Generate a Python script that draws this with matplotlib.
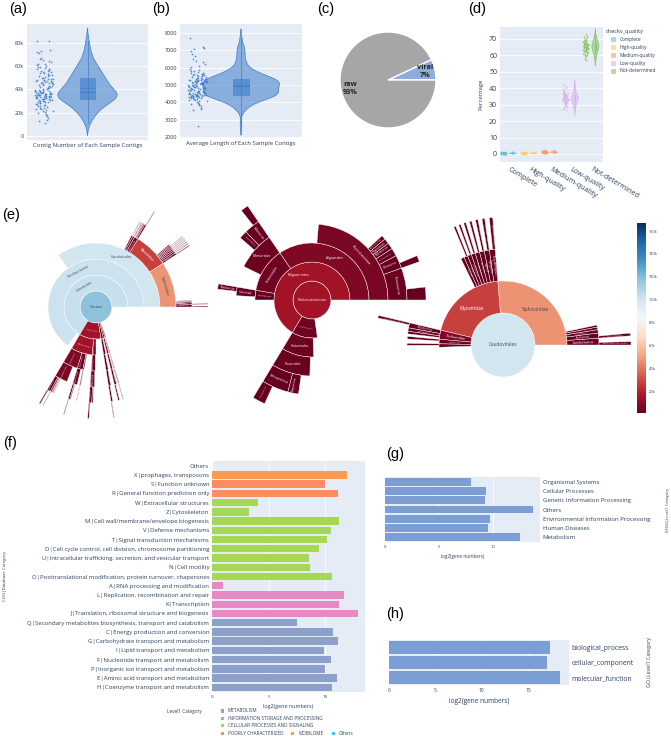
import numpy as np
import matplotlib.pyplot as plt
from matplotlib.patches import Wedge, Circle, Rectangle
from matplotlib.colors import Normalize
from matplotlib.textpath import TextPath
from matplotlib.font_manager import FontProperties
import matplotlib.cm as cm

# ---------------- data ----------------
# (a) contig number per sample (thousands)
contig_numbers_k = [
    11.0, 12.5, 14.0, 15.5, 17.0, 18.0, 19.0, 19.8, 20.5, 21.0, 21.6, 22.1, 22.7, 23.2, 23.8,
    24.3, 24.9, 25.4, 25.8, 26.2, 26.7, 27.1, 27.5, 27.9, 28.3, 28.7, 29.0, 29.3, 29.6, 29.9,
    30.2, 30.5, 30.8, 31.1, 31.4, 31.6, 31.8, 32.0, 32.2, 32.4, 32.6, 32.8, 33.0, 33.2, 33.4,
    33.6, 33.8, 34.0, 34.1, 34.3, 34.5, 34.6, 34.8, 35.0, 35.1, 35.3, 35.5, 35.6, 35.8, 36.0,
    36.1, 36.3, 36.5, 36.6, 36.8, 37.0, 37.1, 37.3, 37.5, 37.7, 38.0, 38.3, 38.6, 38.9, 39.2,
    39.5, 39.8, 40.1, 40.4, 40.7, 41.0, 41.4, 41.8, 42.2, 42.6, 43.0, 43.4, 43.8, 44.2, 44.6,
    45.0, 45.3, 45.6, 45.9, 46.2, 46.5, 46.8, 47.1, 47.4, 47.7, 48.0, 48.3, 48.6, 48.9, 49.2,
    49.6, 50.1, 50.6, 51.1, 51.6, 52.1, 52.6, 53.1, 53.6, 54.1, 54.6, 55.1, 55.6, 56.1, 56.6,
    57.1, 57.6, 58.2, 58.8, 59.4, 60.0, 60.7, 61.4, 62.1, 63.0, 64.0, 65.0, 66.0, 67.0, 71.5,
    72.3, 73.0, 73.6, 81.0, 81.8,
]
# (b) average contig length per sample
avg_contig_length = [
    2650, 3550, 3620, 3700, 3760, 3820, 3880, 3930, 3980, 4020, 4060, 4100, 4130, 4160, 4190,
    4210, 4230, 4250, 4270, 4290, 4300, 4310, 4320, 4330, 4340, 4350, 4360, 4370, 4380, 4390,
    4400, 4410, 4420, 4430, 4440, 4450, 4460, 4470, 4480, 4490, 4500, 4515, 4530, 4545, 4560,
    4575, 4590, 4605, 4620, 4635, 4650, 4665, 4680, 4695, 4710, 4725, 4740, 4755, 4770, 4785,
    4800, 4815, 4830, 4845, 4860, 4875, 4890, 4905, 4920, 4935, 4950, 4965, 4980, 4995, 5010,
    5025, 5040, 5055, 5070, 5085, 5100, 5110, 5120, 5130, 5140, 5150, 5160, 5170, 5180, 5190,
    5200, 5210, 5220, 5230, 5240, 5250, 5260, 5270, 5280, 5290, 5300, 5310, 5320, 5335, 5350,
    5370, 5390, 5410, 5430, 5450, 5470, 5490, 5510, 5530, 5550, 5570, 5590, 5610, 5630, 5650,
    5680, 5710, 5740, 5780, 5830, 5880, 5950, 6020, 6100, 6200, 6300, 6400, 6500, 6650, 6800,
    6950, 7050, 7150, 7200, 7700,
]

# (c) pie
pie_labels = ['viral', 'raw']
pie_values = [7, 93]

# (d) checkv quality (percentage per sample)
quality_levels = ['Complete', 'High-quality', 'Medium-quality', 'Low-quality', 'Not-determined']
pct_complete = [0.1, 0.2, 0.3, 0.2, 0.4, 0.5, 0.3, 0.6, 0.2, 0.4, 0.7, 0.3, 0.5, 0.8, 0.2, 0.4, 0.6, 0.3, 0.9, 0.5,
                0.1, 0.4, 0.6, 0.3, 1.0, 0.5, 0.2, 0.7, 0.4, 0.3, 0.6, 0.5, 1.2, 0.4, 0.2, 0.3, 0.8, 0.5, 0.4, 0.6,
                0.3, 0.7, 0.2, 0.5, 0.4, 1.1, 0.3, 0.6, 0.5, 0.4, 0.2, 0.7, 0.3, 0.5, 0.9, 0.4, 0.6, 0.3, 0.5, 0.4]
pct_high = [0.3, 0.5, 0.4, 0.6, 0.2, 0.7, 0.5, 0.4, 0.8, 0.3, 0.6, 0.5, 0.9, 0.4, 0.3, 0.7, 0.5, 0.6, 1.0, 0.4,
            0.2, 0.5, 0.7, 0.6, 0.3, 0.8, 0.5, 0.4, 1.1, 0.6, 0.5, 0.3, 0.7, 0.4, 0.6, 0.5, 0.9, 0.2, 0.4, 0.6,
            0.5, 0.8, 0.3, 0.7, 0.5, 0.4, 1.2, 0.6, 0.3, 0.5, 0.7, 0.4, 0.6, 0.5, 0.3, 0.8, 0.4, 0.6, 0.5, 0.7]
pct_medium = [0.6, 1.0, 0.8, 1.2, 1.5, 0.9, 1.1, 0.7, 1.3, 1.8, 1.0, 0.8, 1.4, 1.2, 0.9, 2.0, 1.1, 1.6, 0.7, 1.3,
              1.0, 1.2, 0.9, 1.7, 1.4, 1.1, 0.8, 2.3, 1.0, 1.5, 1.2, 0.9, 1.3, 1.1, 1.9, 0.8, 1.4, 1.0, 1.2, 1.6,
              0.9, 1.1, 1.3, 2.1, 1.0, 1.5, 0.7, 1.2, 1.4, 1.0, 1.8, 1.1, 0.9, 1.3, 1.6, 1.2, 1.0, 1.4, 0.8, 1.1]
pct_low = [26.5, 28, 29.5, 30.5, 31, 31.5, 32, 32.3, 32.6, 33, 33.2, 33.5, 33.8, 34, 34.2, 34.5, 34.8, 35, 35.3, 35.6,
           36, 36.5, 37, 37.5, 38, 39, 40, 41, 42, 30, 31.8, 32.8, 33.6, 34.4, 35.2, 36.2, 29, 30.8, 32.1, 33.3,
           34.6, 35.8, 37.2, 38.5, 27.5, 31.2, 32.4, 33.9, 35.5, 36.8, 39.5, 28.5, 30.2, 33.1, 34.1, 34.9, 36.4, 31.6, 32.9, 34.3]
pct_notdet = [57, 59, 60.5, 61.5, 62, 62.5, 63, 63.5, 64, 64.3, 64.6, 65, 65.3, 65.6, 66, 66.3, 66.6, 67, 67.3, 67.6,
              68, 68.5, 69, 69.5, 70, 71, 72, 73, 60, 61, 62.8, 63.8, 64.8, 65.8, 66.8, 67.8, 68.8, 58, 61.8, 63.2,
              64.1, 65.1, 66.1, 67.1, 68.2, 70.5, 59.5, 62.2, 63.6, 64.9, 65.9, 66.9, 69.2, 71.5, 60.8, 62.6, 64.4, 65.4, 66.4, 67.5]

# (e) taxonomy tree: slice size (relative abundance) and contig count (thousands, colour)
tax_names = [
    'Viruses',
    'Uroviricota', 'Nucleocytoviricota', 'Cressdnaviricota', 'Phixviricota', 'Preplasmiviricota',
    'Caudoviricetes', 'Megaviricetes', 'Pokkesviricetes', 'Arfiviricetes', 'Malgrandaviricetes', 'Maveriviricetes',
    'Caudovirales', 'Algavirales', 'Imitervirales', 'Pimascovirales', 'Chitovirales', 'Cirlivirales',
    'Petitvirales', 'Priklausovirales',
    'Siphoviridae', 'Myoviridae', 'Podoviridae', 'Herelleviridae', 'Ackermannviridae', 'Phycodnaviridae',
    'Mimiviridae', 'Iridoviridae', 'Poxviridae', 'Circoviridae', 'Microviridae', 'Lavidaviridae',
    'Lambdavirus', 'Skunavirus', 'Pahexavirus', 'Brujitavirus', 'Tequintavirus',
    'Tequatrovirus', 'Mosigvirus', 'Kayvirus', 'Pbunavirus', 'Felixounavirus', 'Vequintavirus', 'Punavirus', 'Phikzvirus',
    'Phikmvvirus', 'Lederbergvirus', 'Teseptimavirus', 'Twortvirus', 'Kuttervirus',
    'Prasinovirus', 'Chlorovirus', 'Coccolithovirus', 'Raphidovirus', 'Phaeovirus', 'Prymnesiovirus',
    'Mimivirus', 'Cafeteriavirus', 'Ranavirus', 'Orthopoxvirus', 'Yatapoxvirus', 'Circovirus', 'Microvirus', 'Sputnikvirus',
    'Escherichia virus Lambda', 'Lactococcus virus sk1', 'Escherichia virus T4', 'Escherichia virus RB69',
    'Staphylococcus virus K', 'Pseudomonas virus PB1', 'Salmonella virus FelixO1', 'Escherichia virus V5',
    'Escherichia virus P1', 'Pseudomonas virus phiKMV', 'Ostreococcus tauri virus',
    'Paramecium bursaria Chlorella virus', 'Acanthamoeba polyphaga mimivirus', 'Vaccinia virus', 'Porcine circovirus',
]
tax_parents = [
    '',
    'Viruses', 'Viruses', 'Viruses', 'Viruses', 'Viruses',
    'Uroviricota', 'Nucleocytoviricota', 'Nucleocytoviricota', 'Cressdnaviricota', 'Phixviricota', 'Preplasmiviricota',
    'Caudoviricetes', 'Megaviricetes', 'Megaviricetes', 'Megaviricetes', 'Pokkesviricetes', 'Arfiviricetes',
    'Malgrandaviricetes', 'Maveriviricetes',
    'Caudovirales', 'Caudovirales', 'Caudovirales', 'Caudovirales', 'Caudovirales', 'Algavirales',
    'Imitervirales', 'Pimascovirales', 'Chitovirales', 'Cirlivirales', 'Petitvirales', 'Priklausovirales',
    'Siphoviridae', 'Siphoviridae', 'Siphoviridae', 'Siphoviridae', 'Siphoviridae',
    'Myoviridae', 'Myoviridae', 'Myoviridae', 'Myoviridae', 'Myoviridae', 'Myoviridae', 'Myoviridae', 'Myoviridae',
    'Podoviridae', 'Podoviridae', 'Podoviridae', 'Herelleviridae', 'Ackermannviridae',
    'Phycodnaviridae', 'Phycodnaviridae', 'Phycodnaviridae', 'Phycodnaviridae', 'Phycodnaviridae', 'Phycodnaviridae',
    'Mimiviridae', 'Mimiviridae', 'Iridoviridae', 'Poxviridae', 'Poxviridae', 'Circoviridae', 'Microviridae', 'Lavidaviridae',
    'Lambdavirus', 'Skunavirus', 'Tequatrovirus', 'Mosigvirus',
    'Kayvirus', 'Pbunavirus', 'Felixounavirus', 'Vequintavirus',
    'Punavirus', 'Phikmvvirus', 'Prasinovirus',
    'Chlorovirus', 'Mimivirus', 'Orthopoxvirus', 'Circovirus',
]
tax_sizes = [
    1000,
    665, 110, 12, 8, 5,
    650, 73, 12, 8, 6, 3,
    350, 38, 14, 3, 10, 6,
    5, 2,
    92, 70, 8, 4, 3, 26,
    9, 2, 9, 5, 4.5, 1.8,
    4.0, 3.0, 2.0, 1.5, 1.2,
    3.5, 3.0, 2.8, 2.6, 2.4, 2.3, 2.2, 2.0,
    3.0, 2.0, 1.5, 1.5, 1.2,
    6.0, 2.5, 1.5, 1.2, 1.0, 0.8,
    3.0, 1.5, 1.0, 5.0, 2.0, 3.0, 2.5, 1.2,
    1.5, 1.2, 1.5, 1.2,
    1.1, 1.0, 1.0, 0.9,
    0.9, 1.2, 2.0,
    1.0, 1.2, 2.0, 1.2,
]
tax_counts_k = [
    118,
    103, 14, 4, 3, 2,
    102, 14, 3, 2, 2, 1,
    100, 6.5, 3, 1, 2.5, 1.5,
    1.5, 0.5,
    47, 27, 6, 2, 1.5, 5,
    2.5, 0.6, 2.2, 1.2, 1.3, 0.4,
    1.8, 1.2, 0.8, 0.6, 0.5,
    1.5, 1.2, 1.1, 1.0, 0.9, 0.8, 0.7, 0.6,
    1.0, 0.7, 0.5, 0.4, 0.3,
    2.0, 1.0, 0.6, 0.4, 0.3, 0.2,
    1.0, 0.4, 0.3, 1.2, 0.5, 0.8, 0.8, 0.3,
    0.5, 0.4, 0.5, 0.4,
    0.4, 0.3, 0.3, 0.3,
    0.3, 0.4, 0.8,
    0.4, 0.4, 0.5, 0.3,
]
sunburst_roots = ['Viruses', 'Nucleocytoviricota', 'Caudovirales']
colorbar_ticks_k = [20, 40, 60, 80, 100, 120, 140, 160]

# (f) COG categories
cog_labels = [
    'Others', 'X|prophages, transposons', 'S|Function unknown', 'R|General function prediction only',
    'W|Extracellular structures', 'Z|Cytoskeleton', 'M|Cell wall/membrane/envelope biogenesis',
    'V|Defense mechanisms', 'T|Signal transduction mechanisms',
    'D|Cell cycle control, cell division, chromosome partitioning',
    'U|Intracellular trafficking, secretion, and vesicular transport', 'N|Cell motility',
    'O|Posttranslational modification, protein turnover, chaperones', 'A|RNA processing and modification',
    'L|Replication, recombination and repair', 'K|Transcription',
    'J|Translation, ribosomal structure and biogenesis',
    'Q|Secondary metabolites biosynthesis, transport and catabolism', 'C|Energy production and conversion',
    'G|Carbohydrate transport and metabolism', 'I|Lipid transport and metabolism',
    'F|Nucleotide transport and metabolism', 'P|Inorganic ion transport and metabolism',
    'E|Amino acid transport and metabolism', 'H|Coenzyme transport and metabolism',
]
cog_groups = [
    'Others', 'MOBILOME', 'POORLY CHARACTERIZED', 'POORLY CHARACTERIZED',
    'CELLULAR PROCESSES AND SIGNALING', 'CELLULAR PROCESSES AND SIGNALING', 'CELLULAR PROCESSES AND SIGNALING',
    'CELLULAR PROCESSES AND SIGNALING', 'CELLULAR PROCESSES AND SIGNALING', 'CELLULAR PROCESSES AND SIGNALING',
    'CELLULAR PROCESSES AND SIGNALING', 'CELLULAR PROCESSES AND SIGNALING', 'CELLULAR PROCESSES AND SIGNALING',
    'INFORMATION STORAGE AND PROCESSING', 'INFORMATION STORAGE AND PROCESSING', 'INFORMATION STORAGE AND PROCESSING',
    'INFORMATION STORAGE AND PROCESSING',
    'METABOLISM', 'METABOLISM', 'METABOLISM', 'METABOLISM', 'METABOLISM', 'METABOLISM', 'METABOLISM', 'METABOLISM',
]
cog_log2 = [0, 11.95, 9.93, 11.08, 4.1, 3.3, 11.18, 10.53, 10.15, 9.41, 8.53, 8.67, 10.62, 0.94,
            11.68, 11.18, 12.85, 7.49, 10.65, 11.08, 9.85, 10.53, 10.0, 11.03, 10.59]
cog_group_order = ['METABOLISM', 'INFORMATION STORAGE AND PROCESSING', 'CELLULAR PROCESSES AND SIGNALING',
                   'POORLY CHARACTERIZED', 'MOBILOME', 'Others']

# (g) KEGG level 1
kegg_labels = ['Organismal Systems', 'Cellular Processes', 'Genetic Information Processing', 'Others',
               'Environmental Information Processing', 'Human Diseases', 'Metabolism']
kegg_log2 = [8.0, 9.4, 9.3, 13.75, 9.78, 9.6, 12.5]

# (h) GO level 1
go_labels = ['biological_process', 'cellular_component', 'molecular_function']
go_log2 = [17.4, 17.0, 18.45]

# ---------------- style ----------------
W, H = 671, 736
plt.rcParams['font.family'] = ['Open Sans', 'DejaVu Sans']
fig = plt.figure(figsize=(W / 100, H / 100), dpi=100)

PLOT_BG = '#E5ECF6'
TXT = '#2a3f5f'
BLUE = '#3d7cc9'
PASTEL = ['#66C5CC', '#F6CF71', '#F89C74', '#DCB0F2', '#87C55F']
COG_COLORS = {'METABOLISM': '#8DA0CB', 'INFORMATION STORAGE AND PROCESSING': '#E78AC3',
              'CELLULAR PROCESSES AND SIGNALING': '#A6D854', 'POORLY CHARACTERIZED': '#FC8D62',
              'MOBILOME': '#FD9A4E', 'Others': '#3CC6EA'}
BAR_BLUE = '#7b9fd4'
PX_PER_PT = 100 / 72


def px_axes(x0, y0, x1, y1):
    return fig.add_axes([x0 / W, 1 - y1 / H, (x1 - x0) / W, (y1 - y0) / H])


def panel_label(x, y, s):
    fig.text(x / W, 1 - y / H, s, fontsize=10.5, family='Liberation Sans', va='center', ha='left')


def plotly_style(ax, grid_axis='y', labelsize=4):
    ax.set_facecolor(PLOT_BG)
    for s in ax.spines.values():
        s.set_visible(False)
    ax.grid(axis=grid_axis, color='white', lw=0.6)
    ax.set_axisbelow(True)
    ax.tick_params(length=0, colors=TXT, labelsize=labelsize, pad=2)


def text_width(s, fs):
    tp = TextPath((0, 0), s, size=fs * PX_PER_PT, prop=FontProperties(family='Open Sans'))
    return tp.get_extents().width


def silverman_bw(v):
    q75, q25 = np.percentile(v, [75, 25])
    s = min(v.std(ddof=1), (q75 - q25) / 1.349)
    return 1.059 * s * len(v) ** -0.2


def violin(ax, vals, pos, half, box_half, color, pt_pos, pt_half, pt_size=1.6):
    v = np.asarray(vals, float)
    bw = silverman_bw(v)
    grid = np.linspace(v.min() - 2 * bw, v.max() + 2 * bw, 300)
    dens = np.exp(-0.5 * ((grid[:, None] - v[None, :]) / bw) ** 2).sum(axis=1)
    dens = dens / dens.max() * half
    ax.fill_betweenx(grid, pos - dens, pos + dens, facecolor=color, alpha=0.55, edgecolor='none', zorder=2)
    ax.plot(np.r_[pos - dens, (pos + dens)[::-1]], np.r_[grid, grid[::-1]], color=color, lw=0.5, zorder=3)
    q1, med, q3 = np.percentile(v, [25, 50, 75])
    ax.plot([pos, pos], [v.min(), v.max()], color=color, lw=0.5, zorder=3)
    ax.add_patch(Rectangle((pos - box_half, q1), 2 * box_half, q3 - q1, facecolor=color, alpha=0.6,
                           edgecolor=color, lw=0.5, zorder=4))
    ax.plot([pos - box_half, pos + box_half], [med, med], color=color, lw=0.6, zorder=5)
    ax.plot([pos - box_half, pos + box_half], [v.mean(), v.mean()], color=color, lw=0.5, ls=(0, (2, 1)), zorder=5)
    # deterministic hash-style jitter for the sample points (horizontal spread only)
    idx = np.arange(len(v))
    jit = (np.sin(idx * 12.9898 + 1.0) * 43758.5453) % 1.0 - 0.5
    ax.scatter(pt_pos + jit * 2 * pt_half, v, s=pt_size, color=color, alpha=0.85, lw=0, zorder=4)


# ---------------- (a) ----------------
panel_label(9, 8.5, '(a)')
ax_a = px_axes(27, 24, 148, 140)
plotly_style(ax_a)
violin(ax_a, contig_numbers_k, 0.0, 0.245, 0.065, BLUE, -0.36, 0.075)
ax_a.set_xlim(-0.5, 0.5)
ax_a.set_ylim(-3.5, 96)
ax_a.set_yticks([0, 20, 40, 60, 80])
ax_a.set_yticklabels(['0', '20k', '40k', '60k', '80k'])
ax_a.set_xticks([0])
ax_a.set_xticklabels(['Contig Number of Each Sample Contigs'], fontsize=4.3)

# ---------------- (b) ----------------
panel_label(152, 8.5, '(b)')
ax_b = px_axes(180, 24, 302, 138)
plotly_style(ax_b)
violin(ax_b, avg_contig_length, 0.0, 0.315, 0.062, BLUE, -0.357, 0.078)
ax_b.set_xlim(-0.5, 0.5)
ax_b.set_ylim(1940, 8520)
ax_b.set_yticks(range(2000, 8001, 1000))
ax_b.set_xticks([0])
ax_b.set_xticklabels(['Average Length of Each Sample Contigs'], fontsize=4.3)

# ---------------- (c) ----------------
panel_label(317, 8.5, '(c)')
ax_c = px_axes(328, 20, 448, 140)
wedges, _ = ax_c.pie(pie_values, colors=['#8faadc', '#a6a6a6'], startangle=0, counterclock=True,
                     wedgeprops=dict(edgecolor='white', linewidth=1.0))
total = sum(pie_values)
for w, lab, val in zip(wedges, pie_labels, pie_values):
    ang = np.radians((w.theta1 + w.theta2) / 2)
    ax_c.text(0.8 * np.cos(ang), 0.8 * np.sin(ang), f'{lab}\n{val / total * 100:.0f}%', ha='center',
              va='center', fontsize=5.2, fontweight='bold', color='#222222', linespacing=1.3)
ax_c.set_aspect('equal')

# ---------------- (d) ----------------
panel_label(468, 8.5, '(d)')
ax_d = px_axes(500, 27, 603, 162)
plotly_style(ax_d, labelsize=5)
quality_values = [pct_complete, pct_high, pct_medium, pct_low, pct_notdet]
for i, (vals, col) in enumerate(zip(quality_values, PASTEL)):
    violin(ax_d, vals, i + 0.13, 0.17, 0.03, col, i - 0.33, 0.13, pt_size=1.4)
ax_d.set_xlim(-0.5, 4.5)
ax_d.set_ylim(-4.9, 77.3)
ax_d.set_yticks(range(0, 71, 10))
ax_d.set_xticks(range(len(quality_levels)))
ax_d.set_xticklabels(quality_levels, rotation=-31, ha='left', va='top', rotation_mode='anchor', fontsize=5.2)
ax_d.tick_params(axis='x', pad=3)
ax_d.set_ylabel('Percentage', fontsize=4.3, color=TXT, labelpad=4)

leg_d = px_axes(603, 24, 671, 80)
leg_d.set_xlim(603, 671)
leg_d.set_ylim(80, 24)
leg_d.axis('off')
leg_d.text(606, 31, 'checkv_quality', fontsize=4.1, color=TXT, va='center')
for i, (lvl, col) in enumerate(zip(quality_levels, PASTEL)):
    yy = 39 + 8 * i
    leg_d.add_patch(Rectangle((611, yy - 2.2), 4.4, 4.4, facecolor=col, alpha=0.6, edgecolor=col, lw=0.5))
    leg_d.text(620, yy, lvl, fontsize=3.5, color=TXT, va='center')

# ---------------- (e) sunbursts ----------------
panel_label(2, 215, '(e)')
sb_cmap = plt.get_cmap('RdBu')
sb_norm = Normalize(1, 167)
size_of = dict(zip(tax_names, tax_sizes))
count_of = dict(zip(tax_names, tax_counts_k))
kids = {}
for n, p in zip(tax_names, tax_parents):
    kids.setdefault(p, []).append(n)


def horizontal_fits(cx, cy, w, h, r_in, r_out, a0, a1):
    for dx in (-w / 2, w / 2):
        for dy in (-h / 2, h / 2):
            x, y = cx + dx, cy + dy
            r = np.hypot(x, y)
            ang = np.degrees(np.arctan2(y, x)) % 360
            if not (r_in <= r <= r_out and a0 <= ang <= a1):
                return False
    return True


def label_node(ax, name, depth, a0, span, col, unit, base):
    lum = 0.299 * col[0] + 0.587 * col[1] + 0.114 * col[2]
    tc = 'white' if lum < 0.55 else '#444444'
    wpp = 0.56 * len(name) * PX_PER_PT
    hpp = 1.0 * PX_PER_PT
    if depth == 0:
        fs = min(base, 1.8 * unit / wpp)
        if fs >= 1.0:
            ax.text(0, 0, name, fontsize=fs, color=tc, ha='center', va='center')
        return
    r_in, r_out, rm = depth, depth + 1, depth + 0.5
    sp = np.radians(span)
    chord = 2 * rm * unit * np.sin(min(sp, np.pi) / 2)
    fs_t = min(base, 0.9 * chord / wpp, 0.8 * unit / hpp)
    fs_r = min(base, 0.9 * unit / wpp, 0.8 * sp * r_in * unit / hpp)
    mid = a0 + span / 2
    cx, cy = rm * np.cos(np.radians(mid)), rm * np.sin(np.radians(mid))
    fs_h = 0
    if span > 25:
        for f in (base, 0.85 * base, 0.7 * base):
            if horizontal_fits(cx, cy, f * wpp / unit, f * hpp / unit, r_in, r_out, a0, a0 + span):
                fs_h = f
                break
    best = max(fs_h, fs_t, fs_r)
    if best < 1.0:
        return
    if fs_h >= best:
        rot = 0
    elif fs_t >= fs_r:
        rot = mid - 90
    else:
        rot = mid
    rot = (rot + 90) % 180 - 90
    ax.text(cx, cy, name, fontsize=best, rotation=rot, rotation_mode='anchor', ha='center', va='center', color=tc)


def sunburst(ax, root, unit, base):
    def visit(node, depth, a0, span):
        col = sb_cmap(sb_norm(count_of[node]))
        if depth == 0:
            ax.add_patch(Circle((0, 0), 1, facecolor=col, edgecolor='white', lw=0.4))
        else:
            ax.add_patch(Wedge((0, 0), depth + 1, a0, a0 + span, width=1, facecolor=col, edgecolor='white', lw=0.3))
        label_node(ax, node, depth, a0, span, col, unit, base)
        a = a0
        for ch in kids.get(node, []):
            s = span * size_of[ch] / size_of[node]
            visit(ch, depth + 1, a, s)
            a += s
    visit(root, 0, 0.0, 360.0)


# centre (px), ring thickness (px), radius extent (rings), base font
sb_layout = [((96, 307), 16, 8.0, 2.6), ((312, 300), 19, 6.5, 2.4), ((503, 345), 32, 4.2, 3.4)]
for root, ((cx, cy), unit, R, base) in zip(sunburst_roots, sb_layout):
    half = R * unit
    ax = px_axes(cx - half, cy - half, cx + half, cy + half)
    ax.set_xlim(-R, R)
    ax.set_ylim(-R, R)
    ax.axis('off')
    sunburst(ax, root, unit, base)

cax = px_axes(637, 223, 646, 413)
cb = fig.colorbar(cm.ScalarMappable(norm=sb_norm, cmap=sb_cmap), cax=cax)
cb.outline.set_visible(False)
cb.set_ticks(colorbar_ticks_k)
cb.set_ticklabels([f'{t}k' for t in colorbar_ticks_k])
cax.tick_params(labelsize=2.8, length=0, colors=TXT, pad=2)

# ---------------- (f) ----------------
panel_label(3, 443, '(f)')
ax_f = px_axes(212, 461, 365, 692)
plotly_style(ax_f, grid_axis='x', labelsize=4.3)
ypos = np.arange(len(cog_labels))
ax_f.barh(ypos, cog_log2, height=0.8, color=[COG_COLORS[g] for g in cog_groups], zorder=2)
ax_f.set_yticks(ypos)
ax_f.set_yticklabels(cog_labels)
ax_f.set_ylim(len(cog_labels) - 0.5, -0.5)
ax_f.set_xlim(0, 13.5)
ax_f.set_xticks([0, 5, 10])
ax_f.tick_params(axis='x', labelsize=3.2)
ax_f.set_xlabel('log2(gene numbers)', fontsize=3.9, color=TXT, labelpad=4)
fig.text(5 / W, 1 - 576 / H, 'COG|Database Category', rotation=90, fontsize=3.2, color=TXT,
         ha='center', va='center')

leg_f = px_axes(150, 702, 420, 736)
leg_f.set_xlim(150, 420)
leg_f.set_ylim(736, 702)
leg_f.axis('off')
leg_f.text(167, 711, 'Level1 Category', fontsize=3.4, color=TXT, va='center')
legend_rows = [[0], [1], [2], [3, 4, 5]]
for r, row in enumerate(legend_rows):
    x = 220.5
    y = 711 + 7.4 * r
    for gi in row:
        g = cog_group_order[gi]
        leg_f.add_patch(Rectangle((x, y - 1.7), 3.4, 3.4, facecolor=COG_COLORS[g], edgecolor='none'))
        leg_f.text(x + 7, y, g, fontsize=3.3, color=TXT, va='center')
        x += 7 + text_width(g, 3.3) + 10

# ---------------- (g) ----------------
panel_label(386, 454, '(g)')
ax_g = px_axes(385, 477, 540, 542)
plotly_style(ax_g, grid_axis='x', labelsize=4.3)
yk = np.arange(len(kegg_labels))
ax_g.barh(yk, kegg_log2, height=0.86, color=BAR_BLUE, zorder=2)
ax_g.set_yticks(yk)
ax_g.set_yticklabels(kegg_labels)
ax_g.yaxis.tick_right()
ax_g.set_ylim(len(kegg_labels) - 0.5, -0.5)
ax_g.set_xlim(0, 14.4)
ax_g.set_xticks([0, 5, 10])
ax_g.tick_params(axis='x', labelsize=3.0)
ax_g.set_xlabel('log2(gene numbers)', fontsize=3.3, color=TXT, labelpad=4)
fig.text(668 / W, 1 - 510 / H, 'KEGG|Level1 Category', rotation=90, fontsize=3.0, color=TXT,
         ha='center', va='center')

# ---------------- (h) ----------------
panel_label(386, 614, '(h)')
ax_h = px_axes(389, 640, 569, 685)
plotly_style(ax_h, grid_axis='x', labelsize=4.9)
yg = np.arange(len(go_labels))
ax_h.barh(yg, go_log2, height=0.84, color=BAR_BLUE, zorder=2)
ax_h.set_yticks(yg)
ax_h.set_yticklabels(go_labels)
ax_h.yaxis.tick_right()
ax_h.set_ylim(len(go_labels) - 0.5, -0.5)
ax_h.set_xlim(0, 19.4)
ax_h.set_xticks([0, 5, 10, 15])
ax_h.tick_params(axis='x', labelsize=3.5)
ax_h.set_xlabel('log2(gene numbers)', fontsize=4.7, color=TXT, labelpad=4)
fig.text(649 / W, 1 - 662 / H, 'GO|Level1 Category', rotation=90, fontsize=3.8, color=TXT,
         ha='center', va='center')

fig.savefig('out.png', dpi=100)
